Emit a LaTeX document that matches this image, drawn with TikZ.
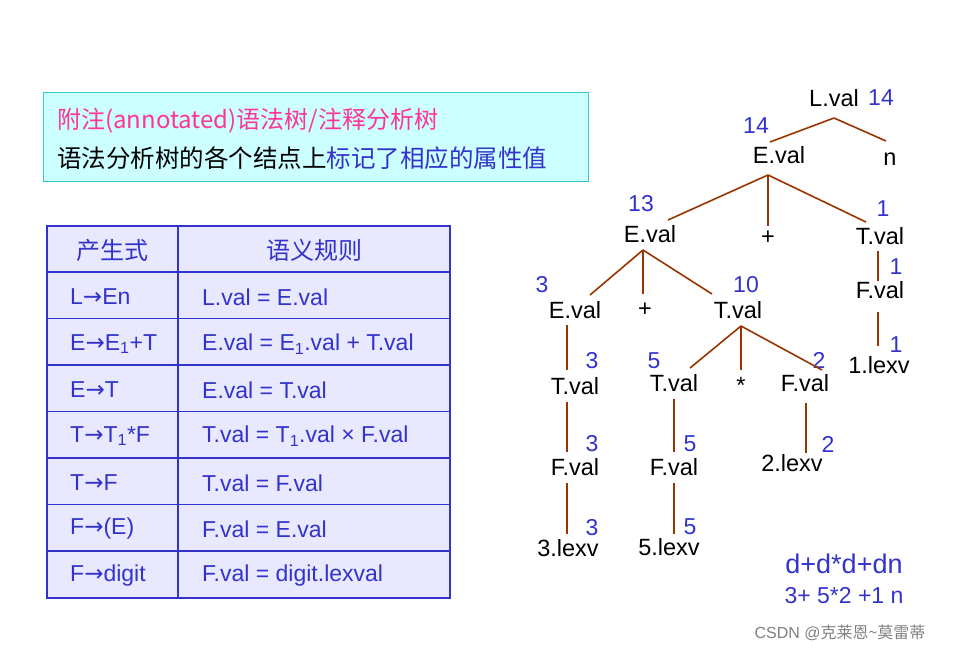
\documentclass[tikz,border=0pt]{standalone}
\usepackage{fontspec}
\setmainfont{Liberation Sans}
\newfontfamily\cjk{Noto Sans CJK SC}
\newfontfamily\dv{DejaVu Sans}
\newcommand{\arr}{{\dv →}}
\definecolor{tblue}{HTML}{3333CC}
\definecolor{brn}{HTML}{993300}
\definecolor{pinkc}{HTML}{FF3399}
\definecolor{boxline}{HTML}{33CCCC}
\definecolor{boxfill}{HTML}{CCFFFF}
\definecolor{tblfill}{HTML}{E8E8FF}
\begin{document}
\begin{tikzpicture}[x=1pt,y=-1pt,
  t/.style={font=\fontsize{23.5}{26}\selectfont, inner sep=2pt},
  num/.style={font=\fontsize{23}{26}\selectfont, text=tblue, inner sep=0pt},
  ed/.style={draw=brn, line width=1.6pt},
  cell/.style={font=\fontsize{23}{26}\selectfont, text=tblue, anchor=west, inner sep=0pt}]
\useasboundingbox (0,0) rectangle (957,653);
% top box
\node[draw=boxline, line width=1.2pt, fill=boxfill, minimum width=545pt, minimum height=89pt, anchor=north west] (box) at (43,92) {};
\node[anchor=west, inner sep=0pt, text=pinkc, font=\fontsize{24}{26}\selectfont] (l1) at (57,121) {\cjk 附注(annotated)语法树/注释分析树};
\node[anchor=west, inner sep=0pt, font=\fontsize{24.5}{26}\selectfont] (l2) at (57,158) {\cjk 语法分析树的各个结点上\textcolor{tblue}{标记了相应的属性值}};
% table
\fill[tblfill] (47,226) rectangle (450,598);
\foreach \y in {272,318.5,365,411.5,458,504.5,551} \draw[tblue, line width=1.2pt] (47,\y) -- (450,\y);
\draw[tblue, line width=2pt] (47,226) rectangle (450,598);
\draw[tblue, line width=1.2pt] (178,226) -- (178,598);
\node[text=tblue, font=\fontsize{24}{26}\selectfont] (h1) at (112,250) {\cjk 产生式};
\node[text=tblue, font=\fontsize{24}{26}\selectfont] (h2) at (314,250) {\cjk 语义规则};
\node[cell] (a1) at (70,297) {L\arr En};
\node[cell] (b1) at (202,297) {L.val = E.val};
\node[cell] (a2) at (70,344) {E\arr E\textsubscript{1}+T};
\node[cell] (b2) at (202,344) {E.val = E\textsubscript{1}.val + T.val};
\node[cell] (a3) at (70,390) {E\arr T};
\node[cell] (b3) at (202,390) {E.val = T.val};
\node[cell] (a4) at (70,436) {T\arr T\textsubscript{1}*F};
\node[cell] (b4) at (202,436) {T.val = T\textsubscript{1}.val × F.val};
\node[cell] (a5) at (70,483) {T\arr F};
\node[cell] (b5) at (202,483) {T.val = F.val};
\node[cell] (a6) at (70,529) {F\arr (E)};
\node[cell] (b6) at (202,529) {F.val = E.val};
\node[cell] (a7) at (70,576) {F\arr digit};
\node[cell] (b7) at (202,576) {F.val = digit.lexval};
% tree
\node[t] (L) at (834,98) {L.val};
\node[num] at (881,98) {14};
\node[num] at (756,126) {14};
\node[t] (E0) at (779,155) {E.val};
\node[t] (n) at (890,159) {n};
\coordinate (Lb) at (834,118);
\draw[ed] (Lb) -- (770,142);
\draw[ed] (Lb) -- (886,141);
\node[num] at (641,204) {13};
\node[t] (E1) at (650,234) {E.val};
\node[t] (p1) at (768,238) {+};
\node[num] at (883,209) {1};
\node[t] (T1) at (880,236) {T.val};
\coordinate (E0b) at (768,175);
\draw[ed] (E0b) -- (668,220);
\draw[ed] (E0b) -- (768,226);
\draw[ed] (E0b) -- (866,222);
\node[num] at (542,285) {3};
\node[t] (E2) at (575,310) {E.val};
\node[t] (p2) at (645,310) {+};
\node[num] at (746,285) {10};
\node[t] (T2) at (738,310) {T.val};
\coordinate (E1b) at (643,250);
\draw[ed] (E1b) -- (590,295);
\draw[ed] (E1b) -- (643,294);
\draw[ed] (E1b) -- (712,294);
\node[num] at (896,267) {1};
\node[t] (F1) at (880,290) {F.val};
\node[num] at (896,345) {1};
\node[t] (d1) at (879,365) {1.lexv};
\draw[ed] (878,251) -- (878,281);
\draw[ed] (878,312) -- (878,346);
\node[num] at (592,361) {3};
\node[t] (T3) at (575,386) {T.val};
\node[num] at (592,444) {3};
\node[t] (F3) at (575,467) {F.val};
\node[num] at (592,528) {3};
\node[t] (d3) at (568,548) {3.lexv};
\draw[ed] (567,325) -- (567,370);
\draw[ed] (567,402) -- (567,452);
\draw[ed] (567,483) -- (567,534);
\node[num] at (654,361) {5};
\node[t] (T4) at (674,383) {T.val};
\node[t] (st) at (741,385) {*};
\node[num] at (819,360) {2};
\node[t] (F4) at (805,383) {F.val};
\coordinate (T2b) at (741,326);
\draw[ed] (T2b) -- (690,368);
\draw[ed] (T2b) -- (741,370);
\draw[ed] (T2b) -- (822,370);
\node[num] at (690,444) {5};
\node[t] (F5) at (674,467) {F.val};
\node[num] at (690,527) {5};
\node[t] (d5) at (669,547) {5.lexv};
\draw[ed] (674,399) -- (674,452);
\draw[ed] (674,483) -- (674,534);
\node[num] at (828,444) {2};
\node[t] (d2) at (792,463) {2.lexv};
\draw[ed] (806,403) -- (806,453);
\node[text=tblue, font=\fontsize{27}{28}\selectfont] (ex1) at (844,564) {d+d*d+dn};
\node[text=tblue, font=\fontsize{23}{25}\selectfont] (ex2) at (844,596) {3+ 5*2 +1 n};
\node[text=gray, font=\fontsize{16}{17}\selectfont] (wm) at (840,633) {CSDN @\cjk 克莱恩\textasciitilde 莫雷蒂};
\end{tikzpicture}
\end{document}
